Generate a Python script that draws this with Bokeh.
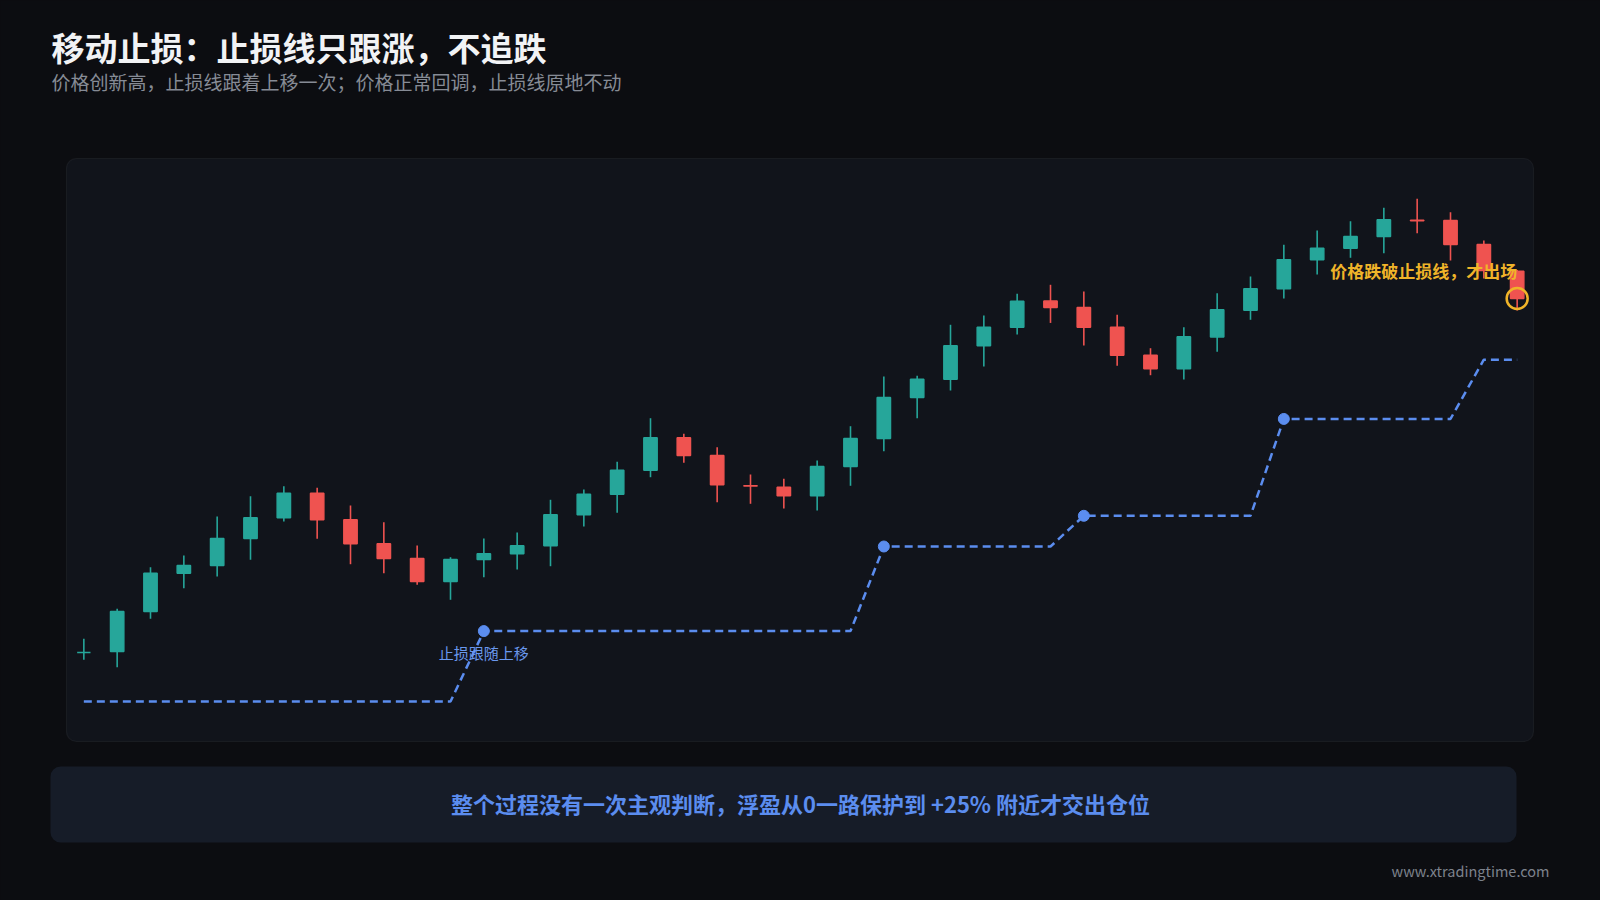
from bokeh.plotting import figure
from bokeh.models import Range1d, BoxAnnotation, GlobalInlineStyleSheet, ColumnDataSource
from bokeh.embed import file_html
from bokeh.resources import INLINE
from bokeh.core.properties import value

# ---------------- data ----------------
opens = [100.00, 100.07, 102.87, 105.55, 106.09, 107.98, 109.43, 111.15, 109.29, 107.61,
         106.58, 104.97, 106.51, 106.91, 107.47, 109.64, 111.08, 112.76, 115.03, 113.79,
         111.68, 111.57, 110.97, 113.02, 114.98, 117.85, 119.13, 121.47, 122.77, 124.60,
         124.15, 122.77, 120.81, 119.86, 122.09, 123.96, 125.46, 127.49, 128.30, 129.12,
         130.25, 130.24, 128.56, 126.69]
closes = [100.00, 102.87, 105.55, 106.09, 107.98, 109.43, 111.15, 109.29, 107.61, 106.58,
          104.97, 106.51, 106.91, 107.47, 109.64, 111.08, 112.76, 115.03, 113.79, 111.74,
          111.66, 110.97, 113.02, 114.98, 117.85, 119.13, 121.47, 122.77, 124.59, 124.15,
          122.77, 120.81, 119.86, 122.10, 123.99, 125.46, 127.49, 128.30, 129.12, 130.29,
          130.23, 128.56, 126.74, 124.78]
highs = [100.96, 103.06, 105.97, 106.79, 109.52, 110.94, 111.64, 111.53, 110.29, 109.12,
         107.49, 106.67, 107.98, 108.40, 110.69, 111.41, 113.35, 116.40, 115.31, 114.37,
         112.46, 112.16, 113.44, 115.84, 119.32, 119.37, 122.94, 123.59, 125.11, 125.74,
         125.27, 123.64, 121.30, 122.77, 125.15, 126.32, 128.54, 129.54, 130.19, 131.13,
         131.76, 130.82, 128.84, 126.78]
lows = [99.49, 98.97, 102.36, 104.50, 105.32, 106.49, 109.17, 107.96, 106.18, 105.55,
        104.74, 103.69, 105.27, 105.81, 106.04, 108.82, 109.78, 112.27, 113.28, 110.52,
        110.41, 110.08, 109.94, 111.67, 114.09, 116.40, 118.34, 120.02, 122.26, 123.07,
        121.49, 120.07, 119.41, 119.11, 121.05, 123.29, 124.78, 126.46, 127.63, 127.95,
        129.35, 127.44, 126.18, 123.94]
stop = [96.57, 96.57, 96.57, 96.57, 96.57, 96.57, 96.57, 96.57, 96.57, 96.57, 96.57, 96.57,
        101.50, 101.50, 101.50, 101.50, 101.50, 101.50, 101.50, 101.50, 101.50, 101.50, 101.50, 101.50,
        107.42, 107.42, 107.42, 107.42, 107.42, 107.42,
        109.57, 109.57, 109.57, 109.57, 109.57, 109.57,
        116.35, 116.35, 116.35, 116.35, 116.35, 116.35,
        120.50, 120.50]
step_idx = [12, 24, 30, 36]
exit_idx = 43

title_text = "移动止损：止损线只跟涨，不追跌"
subtitle_text = "价格创新高，止损线跟着上移一次；价格正常回调，止损线原地不动"
note_trail = "止损跟随上移"
note_exit = "价格跌破止损线，才出场"
summary_text = "整个过程没有一次主观判断，浮盈从0一路保护到 +25% 附近才交出仓位"
footer_text = "www.xtradingtime.com"

# ---------------- style ----------------
BG = "#0c0d11"
PANEL = "#11141b"
BORDER = "#363940"
GREEN = "#26a69a"
RED = "#ef5350"
BLUE = "#5b8def"
BLUE_TXT = "#6a98ee"
YELLOW = "#f0b429"
SUM_BG = "#161c28"
FONT = value("Noto Sans CJK SC")
W, H = 1600, 900

# ---------------- figure ----------------
idx = list(range(len(opens)))
colors = [GREEN if c >= o else RED for o, c in zip(opens, closes)]
tops = [max(o, c) for o, c in zip(opens, closes)]
bots = [min(o, c) for o, c in zip(opens, closes)]
src = ColumnDataSource(dict(x=idx, o=opens, c=closes, h=highs, l=lows,
                            top=tops, bot=bots, color=colors, stop=stop))

p = figure(width=W, height=H, x_range=Range1d(-2.5, 45.5), y_range=Range1d(82.64, 145.64),
           title=None, output_backend="svg", toolbar_location=None, min_border=0,
           x_axis_location=None, y_axis_location=None)
p.grid.visible = False
p.outline_line_color = None
p.background_fill_color = BG
p.border_fill_color = BG
# page-layout coordinates (pixels from the top-left) for panels and headings
p.extra_x_ranges = {"px": Range1d(0, W)}
p.extra_y_ranges = {"py": Range1d(H, 0)}

p.add_layout(BoxAnnotation(left=66, right=1533, top=158, bottom=741,
                           x_range_name="px", y_range_name="py",
                           fill_color=PANEL, fill_alpha=1, line_color=BORDER, line_width=1.2,
                           border_radius=10, level="underlay"))
p.add_layout(BoxAnnotation(left=50, right=1516, top=766, bottom=842,
                           x_range_name="px", y_range_name="py",
                           fill_color=SUM_BG, fill_alpha=1, line_color=None,
                           border_radius=10, level="underlay"))

p.text(x=[51], y=[46], text=[title_text], x_range_name="px", y_range_name="py",
       text_font=FONT, text_font_size="33px", text_font_style="bold",
       text_color="#f2f3f5", text_baseline="middle")
p.text(x=[51], y=[81], text=[subtitle_text], x_range_name="px", y_range_name="py",
       text_font=FONT, text_font_size="19px", text_color="#868b95", text_baseline="middle")

p.segment(x0="x", y0="l", x1="x", y1="h", color="color", line_width=1.6, source=src)
p.vbar(x="x", width=0.4, top="top", bottom="bot", fill_color="color", line_color="color",
       line_width=1.5, source=src)
p.line(x="x", y="stop", color=BLUE, line_width=2.5, line_dash="8 5", source=src)
p.scatter(x=step_idx, y=[stop[i] for i in step_idx], size=11, color=BLUE)
p.text(x=[step_idx[0]], y=[stop[step_idx[0]] - 1.5], text=[note_trail], text_font=FONT,
       text_font_size="15px", text_color=BLUE_TXT, text_align="center", text_baseline="middle")
p.text(x=[exit_idx], y=[126.76], text=[note_exit], text_font=FONT, text_font_size="17px",
       text_font_style="bold", text_color=YELLOW, text_align="right", text_baseline="middle")
p.scatter(x=[exit_idx], y=[closes[exit_idx]], size=21, fill_color=None, line_color=YELLOW,
          line_width=2.5)

p.text(x=[800], y=[802], text=[summary_text], x_range_name="px", y_range_name="py",
       text_font=FONT, text_font_size="22px", text_font_style="bold", text_color=BLUE,
       text_align="center", text_baseline="middle")
p.text(x=[1549], y=[870], text=[footer_text], x_range_name="px", y_range_name="py",
       text_font=FONT, text_font_size="14.5px", text_color="#7d828c",
       text_align="right", text_baseline="middle")

p.stylesheets = [GlobalInlineStyleSheet(
    css="html, body { background: #0c0d11; margin: 0; padding: 0; overflow: hidden; }")]

open("out.html", "w").write(file_html(p, INLINE))
